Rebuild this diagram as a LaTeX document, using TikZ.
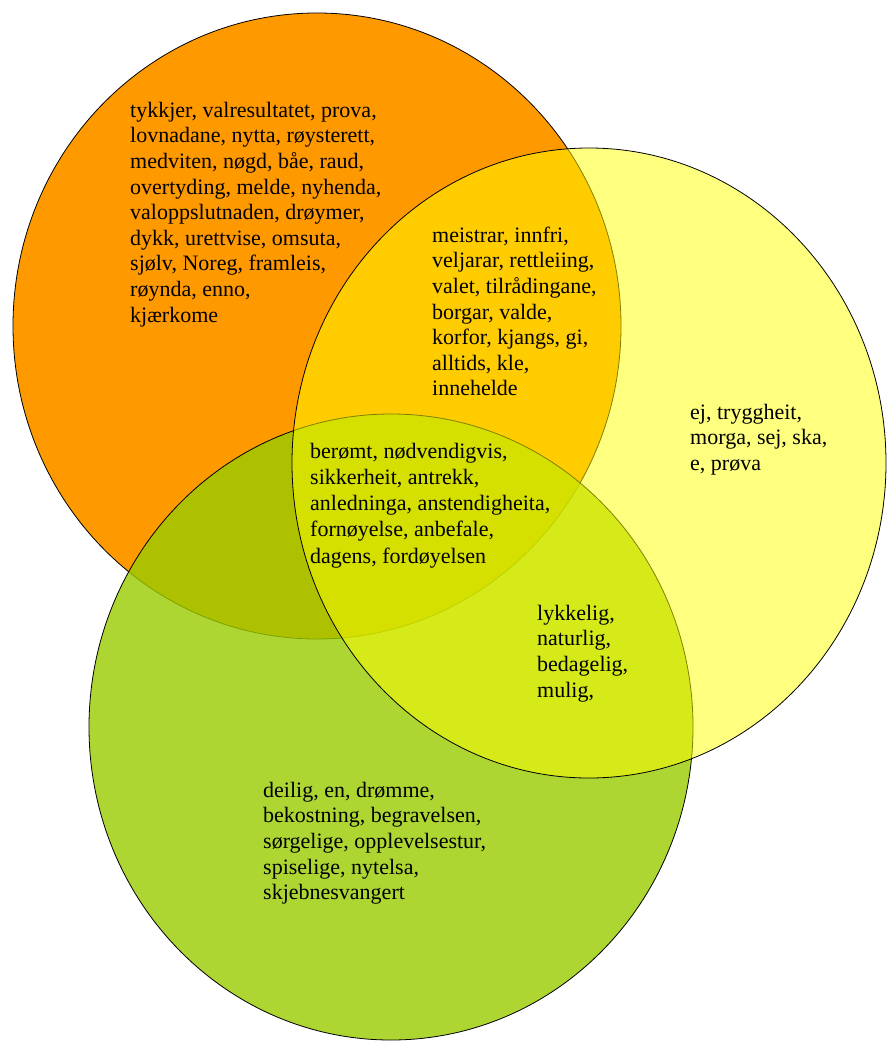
\documentclass[tikz,border=0pt]{standalone}
\usepackage{fontspec}
\setmainfont{Liberation Serif}
\definecolor{vorange}{HTML}{FF9900}
\definecolor{vgreen}{HTML}{99CC00}
\definecolor{vyellow}{HTML}{FFFF00}
\tikzset{
  setline/.style={draw=black, line width=0.8pt},
  words/.style={anchor=north west, inner sep=0pt, align=left,
    font=\fontsize{22}{25.6}\selectfont, text=black},
}
\newcommand{\fl}{\rule{0pt}{16pt}}
\begin{document}
\begin{tikzpicture}[x=1pt,y=-1pt]
\useasboundingbox (0,0) rectangle (887,1041);
% sets
\path[setline, fill=vorange] (317,326) ellipse [x radius=304pt, y radius=313pt];
\path[setline, fill=vgreen, fill opacity=0.8] (391,727) ellipse [x radius=302pt, y radius=313pt];
\path[setline, fill=vyellow, fill opacity=0.5] (589,463) ellipse [x radius=297pt, y radius=315pt];
% texts
\node[words] (tO) at (130,101) {\fl tykkjer, valresultatet, prova,\\ lovnadane, nytta, røysterett,\\ medviten, nøgd, båe, raud,\\ overtyding, melde, nyhenda,\\ valoppslutnaden, drøymer,\\ dykk, urettvise, omsuta,\\ sjølv, Noreg, framleis,\\ røynda, enno,\\ kjærkome};
\node[words] (tOY) at (432,226) {\fl meistrar, innfri,\\ veljarar, rettleiing,\\ valet, tilrådingane,\\ borgar, valde,\\ korfor, kjangs, gi,\\ alltids, kle,\\ innehelde};
\node[words, font=\fontsize{22}{26.2}\selectfont] (tC) at (310,442) {\fl berømt, nødvendigvis,\\ sikkerheit, antrekk,\\ anledninga, anstendigheita,\\ fornøyelse, anbefale,\\ dagens, fordøyelsen};
\node[words] (tY) at (690,403) {\fl ej, tryggheit,\\ morga, sej, ska,\\ e, prøva};
\node[words] (tYG) at (537,604) {\fl lykkelig,\\ naturlig,\\ bedagelig,\\ mulig,};
\node[words] (tG) at (263,781) {\fl deilig, en, drømme,\\ bekostning, begravelsen,\\ sørgelige, opplevelsestur,\\ spiselige, nytelsa,\\ skjebnesvangert};
\end{tikzpicture}
\end{document}
